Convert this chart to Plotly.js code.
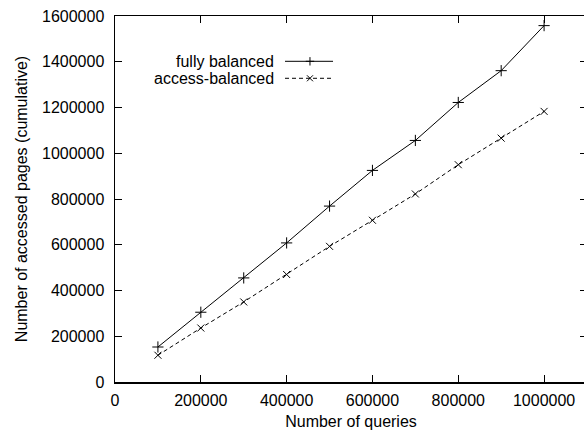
<!DOCTYPE html>
<html>
<head>
<meta charset="utf-8">
<script src="https://cdn.plot.ly/plotly-3.0.1.min.js"></script>
<style>
html,body{margin:0;padding:0;overflow:hidden;background:#fff;}
#chart{width:590px;height:434px;}
</style>
</head>
<body>
<div id="chart"></div>
<script>
var queries = [100000, 200000, 300000, 400000, 500000, 600000, 700000, 800000, 900000, 1000000];
var fullyBalanced = [153000, 305000, 455000, 608000, 769000, 925000, 1056000, 1222000, 1361000, 1558000];
var accessBalanced = [117000, 236000, 350000, 470000, 593000, 707000, 822000, 950000, 1066000, 1183000];
var seriesNames = ["fully balanced", "access-balanced"];
var xTitle = "Number of queries";
var yTitle = "Number of accessed pages (cumulative)";

var FONT = "Liberation Sans, Arial, sans-serif";
var FS = 16;

var traces = [
  {x: queries, y: fullyBalanced, name: seriesNames[0], type: "scatter", mode: "lines+markers",
   line: {color: "#000", width: 1},
   marker: {symbol: "cross-thin-open", size: 8, color: "#000", line: {color: "#000", width: 1}}},
  {x: queries, y: accessBalanced, name: seriesNames[1], type: "scatter", mode: "lines+markers",
   line: {color: "#000", width: 1, dash: "4px,3px"},
   marker: {symbol: "x-thin-open", size: 7, color: "#000", line: {color: "#000", width: 1}}}
];

// legend samples (gnuplot style: text left, sample right) on an overlay 0..1 axis
var legX = [0.3602, 0.4619], legMid = 0.4131, legY = [0.8762, 0.8298];
for (var i = 0; i < 2; i++) {
  traces.push({x: legX, y: [legY[i], legY[i]], xaxis: "x2", yaxis: "y2", mode: "lines",
    line: traces[i].line, hoverinfo: "skip", showlegend: false});
  traces.push({x: [legMid], y: [legY[i]], xaxis: "x2", yaxis: "y2", mode: "markers",
    marker: Object.assign({}, traces[i].marker, {size: 6}), hoverinfo: "skip", showlegend: false});
}

var annotations = [];
for (var j = 0; j < 2; j++) {
  annotations.push({text: seriesNames[j], xref: "paper", yref: "paper", x: 0.3411, y: legY[j],
    xanchor: "right", yanchor: "middle", showarrow: false, font: {family: FONT, size: FS, color: "#000"}});
}

var axisCommon = {
  showgrid: false, zeroline: false, showline: true, mirror: "ticks", linecolor: "#000", linewidth: 1.5,
  ticks: "inside", ticklen: 7, tickwidth: 1, tickcolor: "#000", tickformat: "d",
  tickfont: {family: FONT, size: FS, color: "#000"}
};

var layout = {
  width: 590, height: 434,
  margin: {l: 115, r: 3, t: 16, b: 52, pad: 0},
  paper_bgcolor: "#fff", plot_bgcolor: "#fff",
  showlegend: false,
  font: {family: FONT, size: FS, color: "#000"},
  xaxis: Object.assign({}, axisCommon, {range: [0, 1100000], dtick: 200000, tick0: 0,
    ticklabelstandoff: 3,
    title: {text: xTitle, font: {family: FONT, size: FS, color: "#000"}, standoff: 8}}),
  yaxis: Object.assign({}, axisCommon, {range: [0, 1600000], dtick: 200000, tick0: 0,
    ticklabelstandoff: 6,
    title: {text: yTitle, font: {family: FONT, size: FS, color: "#000"}, standoff: 10}}),
  xaxis2: {overlaying: "x", range: [0, 1], visible: false, fixedrange: true},
  yaxis2: {overlaying: "y", range: [0, 1], visible: false, fixedrange: true},
  annotations: annotations
};

Plotly.newPlot("chart", traces, layout, {displayModeBar: false, staticPlot: true});
</script>
</body>
</html>
